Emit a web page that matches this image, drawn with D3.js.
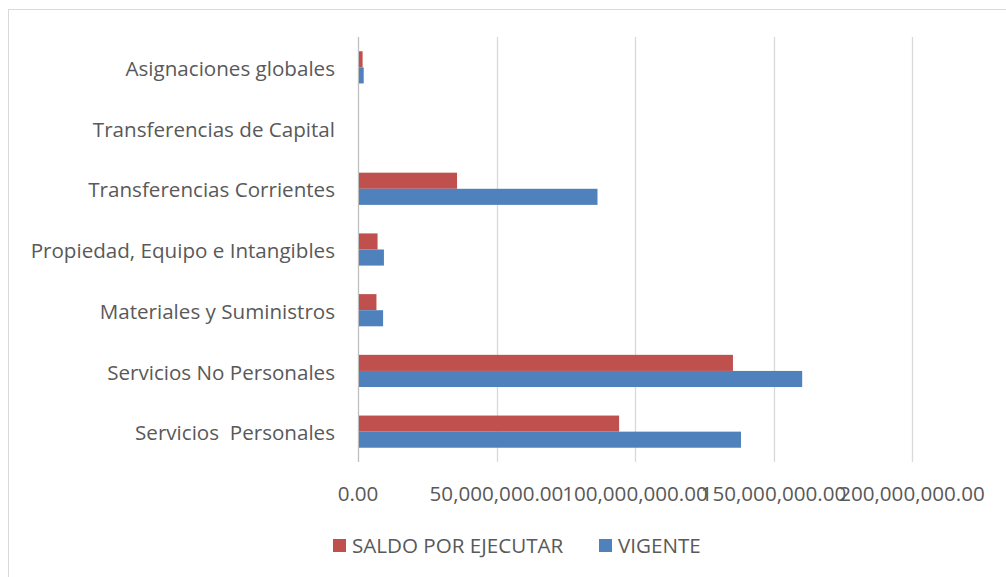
<!DOCTYPE html>
<html>
<head>
<meta charset="utf-8">
<script src="https://cdn.jsdelivr.net/npm/d3@7"></script>
<style>
    body { margin: 0; background: #fff; }
    text { font-family: "Open Sans", "Liberation Sans", sans-serif; fill: #595959; }
</style>
</head>
<body>
<div class="chart"></div>
<script>
// categories, bottom to top as in the picture
const categories = [
    "Servicios  Personales",
    "Servicios No Personales",
    "Materiales y Suministros",
    "Propiedad, Equipo e Intangibles",
    "Transferencias Corrientes",
    "Transferencias de Capital",
    "Asignaciones globales"
];
const saldo = [93900000, 135000000, 6300000, 6700000, 35400000, 0, 1300000];
const vigente = [137900000, 160000000, 8700000, 9000000, 86100000, 0, 1700000];
const seriesNames = ["SALDO POR EJECUTAR", "VIGENTE"];
const seriesColors = ["#C0504D", "#4F81BD"];
const xTicks = [0, 50000000, 100000000, 150000000, 200000000];

const width = 1006, height = 577;
const margin = { top: 37, left: 358, right: 94, bottom: 115 };
const fontSize = "20.6px";

const svg = d3.select(".chart").append("svg")
    .attr("width", width)
    .attr("height", height);

// outer frame
svg.append("rect")
    .attr("x", 8.5).attr("y", 9.5)
    .attr("width", width).attr("height", height)
    .attr("fill", "none").attr("stroke", "#d9d9d9");

const xScale = d3.scaleLinear()
    .domain([0, 200000000])
    .range([margin.left, width - margin.right]);

const yScale = d3.scaleBand()
    .domain(categories.slice().reverse())
    .range([margin.top, height - margin.bottom])
    .paddingInner(0.47)
    .paddingOuter(0.235);

const inner = d3.scaleBand()
    .domain([0, 1])
    .range([0, yScale.bandwidth()]);

// gridlines
svg.append("g")
    .selectAll("line")
    .data(xTicks)
    .enter().append("line")
    .attr("x1", d => Math.round(xScale(d)) + 0.5)
    .attr("x2", d => Math.round(xScale(d)) + 0.5)
    .attr("y1", margin.top)
    .attr("y2", height - margin.bottom)
    .attr("stroke", (d, i) => i === 0 ? "#bfbfbf" : "#d9d9d9")
    .attr("stroke-width", 1.3);

// bars
const data = categories.map((c, i) => ({ cat: c, vals: [saldo[i], vigente[i]] }));
const groups = svg.append("g")
    .selectAll("g")
    .data(data)
    .enter().append("g")
    .attr("transform", d => `translate(0, ${yScale(d.cat)})`);

groups.selectAll("rect")
    .data(d => d.vals)
    .enter().append("rect")
    .attr("x", xScale(0) + 1)
    .attr("y", (d, i) => inner(i))
    .attr("width", d => Math.max(0, xScale(d) - xScale(0)))
    .attr("height", inner.bandwidth())
    .attr("fill", (d, i) => seriesColors[i]);

// category labels
svg.append("g")
    .selectAll("text")
    .data(categories)
    .enter().append("text")
    .attr("x", 335)
    .attr("y", d => yScale(d) + yScale.bandwidth() / 2)
    .attr("dy", "0.42em")
    .attr("text-anchor", "end")
    .style("font-size", fontSize)
    .style("white-space", "pre")
    .text(d => d);

// x tick labels
const fmt = d3.format(",.2f");
svg.append("g")
    .selectAll("text")
    .data(xTicks)
    .enter().append("text")
    .attr("x", d => xScale(d))
    .attr("y", 494)
    .attr("dy", "0.35em")
    .attr("text-anchor", "middle")
    .style("font-size", fontSize)
    .text(d => fmt(d));

// legend
const legendX = [333, 599];
const legend = svg.append("g")
    .selectAll("g")
    .data(seriesNames)
    .enter().append("g")
    .attr("transform", (d, i) => `translate(${legendX[i]}, 546)`);

legend.append("rect")
    .attr("x", 0).attr("y", -7)
    .attr("width", 13).attr("height", 13)
    .attr("fill", (d, i) => seriesColors[i]);

legend.append("text")
    .attr("x", 19)
    .attr("dy", "0.35em")
    .style("font-size", fontSize)
    .text(d => d);
</script>
</body>
</html>
